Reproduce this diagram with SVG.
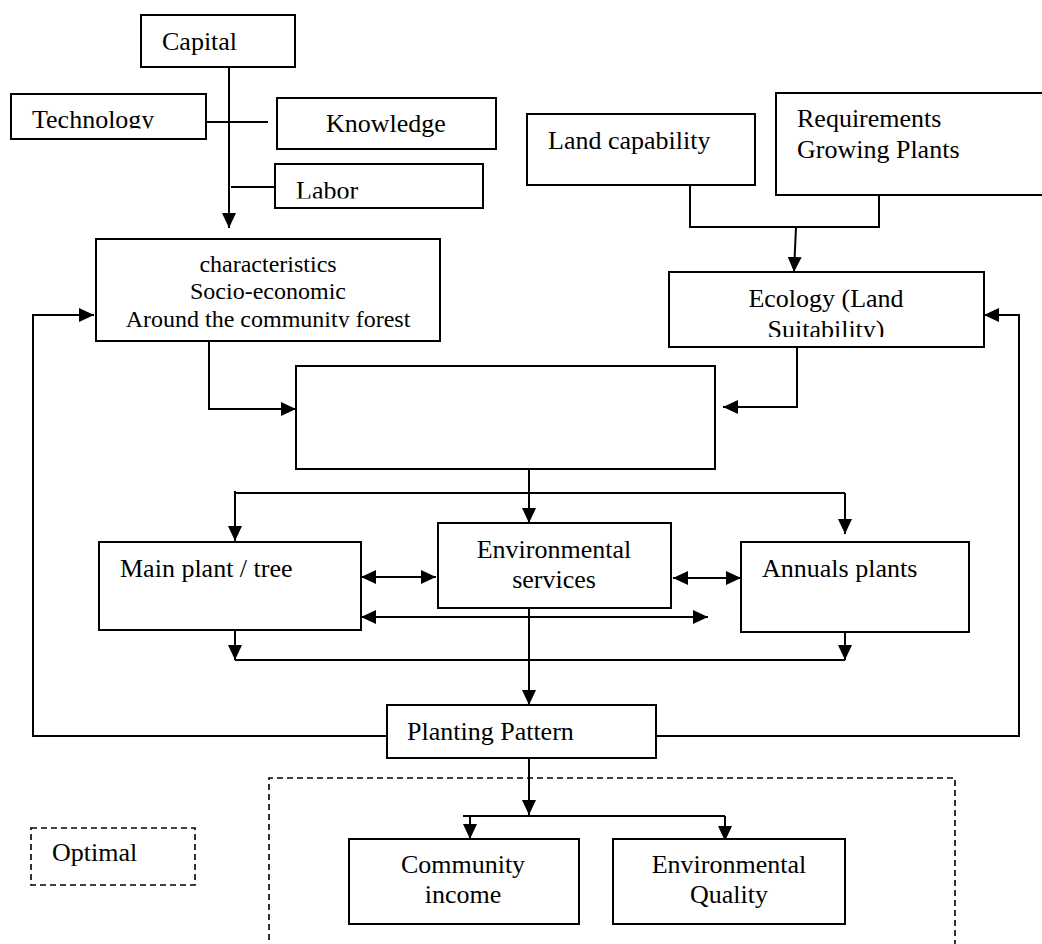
<svg xmlns="http://www.w3.org/2000/svg" width="1042" height="944" viewBox="0 0 1042 944" font-family="'Liberation Serif', 'Times New Roman', Tinos, 'DejaVu Serif', serif">
<style>
.b{fill:#fff;stroke:#000;stroke-width:2}
.d{fill:none;stroke:#000;stroke-width:1.6;stroke-dasharray:6 4}
text{font-family:'Liberation Serif','Times New Roman',Tinos,'DejaVu Serif',serif;font-size:26px;fill:#000}
.s{font-size:24px}
.m{text-anchor:middle}
.c{fill:none;stroke:#000;stroke-width:2}
</style>
<defs>
<marker id="ah" markerWidth="16" markerHeight="14" refX="15" refY="7" orient="auto-start-reverse" markerUnits="userSpaceOnUse"><path d="M0,0 L15,7 L0,14 z" fill="#000"/></marker>
<clipPath id="cTech"><rect x="0" y="0" width="300" height="128.5"/></clipPath>
<clipPath id="cLabor"><rect x="270" y="150" width="220" height="48.5"/></clipPath>
<clipPath id="cSuit"><rect x="660" y="300" width="330" height="37"/></clipPath>
<clipPath id="cAround"><rect x="90" y="240" width="360" height="87.5"/></clipPath>
</defs>

<g id="connectors">
<path class="c" d="M229,67 V228" marker-end="url(#ah)"/>
<path class="c" d="M204,122 H268"/>
<path class="c" d="M231,187 H275"/>
<path class="c" d="M690,185 V227 H879 V195"/>
<path class="c" d="M796,227 L794,272" marker-end="url(#ah)"/>
<path class="c" d="M797,338 V407 H723" marker-end="url(#ah)"/>
<path class="c" d="M209,341 V409 H296" marker-end="url(#ah)"/>
<path class="c" d="M387,736 H33 V315 H94" marker-end="url(#ah)"/>
<path class="c" d="M656,736 H1019 V315 H984" marker-end="url(#ah)"/>
<path class="c" d="M529,469 V523" marker-end="url(#ah)"/>
<path class="c" d="M235,493 H845"/>
<path class="c" d="M235,491 V541" marker-end="url(#ah)"/>
<path class="c" d="M845,493 V534" marker-end="url(#ah)"/>
<path class="c" d="M361,577 H436" marker-start="url(#ah)" marker-end="url(#ah)"/>
<path class="c" d="M673,578 H741" marker-start="url(#ah)" marker-end="url(#ah)"/>
<path class="c" d="M361,617 H708" marker-start="url(#ah)" marker-end="url(#ah)"/>
<path class="c" d="M529,608 V705" marker-end="url(#ah)"/>
<path class="c" d="M235,630 V660" marker-end="url(#ah)"/>
<path class="c" d="M845,632 V660" marker-end="url(#ah)"/>
<path class="c" d="M235,660 H845"/>
<path class="c" d="M529,758 V815" marker-end="url(#ah)"/>
<path class="c" d="M463,816 H725"/>
<path class="c" d="M470,816 V839" marker-end="url(#ah)"/>
<path class="c" d="M725,816 V841" marker-end="url(#ah)"/>
</g>

<g id="capital"><rect class="b" x="141" y="15" width="154" height="52"/><text x="162" y="50">Capital</text></g>
<g id="technology"><rect class="b" x="11" y="94" width="195" height="45"/><text x="32" y="127.5" clip-path="url(#cTech)">Technology</text></g>
<g id="knowledge"><rect class="b" x="277" y="98" width="219" height="51"/><text x="326" y="132">Knowledge</text></g>
<g id="labor"><rect class="b" x="275" y="164" width="208" height="44"/><text x="296" y="199" clip-path="url(#cLabor)">Labor</text></g>
<g id="land-capability"><rect class="b" x="527" y="114" width="228" height="71"/><text x="548" y="149">Land capability</text></g>
<g id="requirements"><rect class="b" x="776" y="93" width="268" height="102"/><text x="797" y="127">Requirements</text><text x="797" y="158">Growing Plants</text></g>
<g id="socio-economic"><rect class="b" x="96" y="239" width="344" height="102"/><text class="s m" x="268" y="272">characteristics</text><text class="s m" x="268" y="299">Socio-economic</text><text class="s m" x="268" y="327" clip-path="url(#cAround)">Around the community forest</text></g>
<g id="ecology"><rect class="b" x="669" y="272" width="315" height="75"/><text class="m" x="826" y="307">Ecology (Land</text><text class="m" x="826" y="338" clip-path="url(#cSuit)">Suitability)</text></g>
<g id="center-box"><rect class="b" x="296" y="366" width="419" height="103"/></g>
<g id="main-plant"><rect class="b" x="99" y="542" width="262" height="88"/><text x="120" y="577">Main plant / tree</text></g>
<g id="environmental-services"><rect class="b" x="438" y="523" width="233" height="85"/><text class="m" x="554" y="558">Environmental</text><text class="m" x="554" y="588">services</text></g>
<g id="annuals"><rect class="b" x="741" y="542" width="228" height="90"/><text x="762" y="577">Annuals plants</text></g>
<g id="planting-pattern"><rect class="b" x="387" y="705" width="269" height="53"/><text x="407" y="740">Planting Pattern</text></g>
<g id="optimal-region"><path class="d" d="M269,950 V778 H955 V950"/></g>
<g id="optimal"><rect class="d" x="31" y="828" width="164" height="57"/><text x="52" y="861">Optimal</text></g>
<g id="community-income"><rect class="b" x="349" y="839" width="230" height="85"/><text class="m" x="463" y="873">Community</text><text class="m" x="463" y="903">income</text></g>
<g id="environmental-quality"><rect class="b" x="613" y="839" width="232" height="85"/><text class="m" x="729" y="873">Environmental</text><text class="m" x="729" y="903">Quality</text></g>
</svg>
